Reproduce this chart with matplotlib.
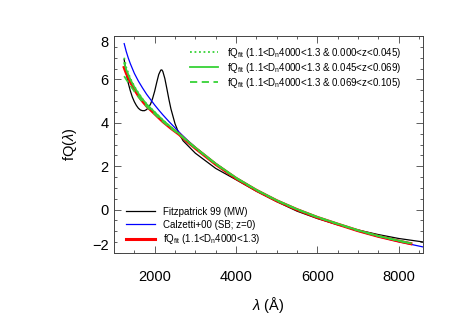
import numpy as np
import matplotlib
matplotlib.use('Agg')
import matplotlib.pyplot as plt
from matplotlib.ticker import MultipleLocator

plt.rcParams['font.family'] = 'Liberation Sans'
plt.rcParams['mathtext.fontset'] = 'custom'
plt.rcParams['mathtext.rm'] = 'Liberation Sans'
plt.rcParams['mathtext.it'] = 'Liberation Sans:italic'

# Fitzpatrick 99 (MW)
wave_mw = [1250, 1300, 1350, 1400, 1450, 1500, 1550, 1600, 1650, 1700, 1750, 1800,
           1850, 1900, 1950, 2000, 2050, 2100, 2150, 2175, 2200, 2250, 2300, 2350,
           2400, 2500, 2600, 2700, 3000, 3500, 4000, 4500, 5000, 5500, 6000, 6500,
           7000, 7500, 8000, 8600]
q_mw = [6.92, 6.27, 5.83, 5.48, 5.19, 4.97, 4.80, 4.67, 4.59, 4.56, 4.56, 4.61,
        4.71, 4.87, 5.13, 5.46, 5.86, 6.23, 6.43, 6.44, 6.37, 6.04, 5.57, 5.08,
        4.64, 3.96, 3.49, 3.17, 2.60, 1.90, 1.38, 0.85, 0.37, -0.07, -0.41, -0.70,
        -0.94, -1.15, -1.33, -1.49]

# Calzetti+00 (SB; z=0)
wave_sb = [1250, 1300, 1350, 1400, 1500, 1600, 1700, 1800, 1900, 2000, 2100,
           2200, 2350, 2500, 2650, 2800, 3000, 3250, 3500, 3750, 4000, 4500, 5000,
           5500, 6000, 6300, 7000, 7500, 8000, 8600]
q_sb = [7.65, 7.29, 6.99, 6.73, 6.28, 5.92, 5.61, 5.32, 5.07, 4.82, 4.59,
        4.37, 4.06, 3.77, 3.48, 3.21, 2.87, 2.48, 2.12, 1.78, 1.46, 0.90, 0.42,
        0.00, -0.37, -0.56, -0.99, -1.25, -1.48, -1.72]

# fQ_fit curves
wave_fit = [1250, 1300, 1400, 1500, 1600, 1700, 1800, 2000, 2200, 2400, 2600, 2800,
            3000, 3500, 4000, 4500, 5000, 5500, 6000, 6500, 7000, 7500, 8000, 8300]
q_fit = [6.55, 6.30, 5.90, 5.55, 5.25, 5.00, 4.78, 4.42, 4.06, 3.75, 3.47, 3.14,
         2.83, 2.09, 1.44, 0.89, 0.41, 0.00, -0.36, -0.67, -0.97, -1.23, -1.45, -1.57]
q_z1 = [7.00, 6.55, 6.05, 5.68, 5.37, 5.10, 4.87, 4.50, 4.13, 3.80, 3.50, 3.16,
        2.85, 2.11, 1.46, 0.90, 0.42, 0.01, -0.35, -0.66, -0.96, -1.22, -1.44, -1.56]
q_z2 = [6.75, 6.45, 6.00, 5.65, 5.35, 5.09, 4.86, 4.49, 4.12, 3.79, 3.49, 3.17,
        2.86, 2.12, 1.47, 0.91, 0.43, 0.02, -0.34, -0.65, -0.95, -1.21, -1.43, -1.55]
q_z3 = [6.15, 6.00, 5.72, 5.45, 5.20, 4.97, 4.76, 4.41, 4.06, 3.75, 3.47, 3.15,
        2.84, 2.10, 1.45, 0.90, 0.42, 0.01, -0.35, -0.66, -0.96, -1.22, -1.44, -1.56]

green = '#36d236'
lab = 'fQ$_{\\mathrm{fit}}$ (1.1<D$_{\\mathrm{n}}$4000<1.3'

fig = plt.figure(figsize=(4.57, 3.26), dpi=100)
ax = fig.add_axes([0.2495, 0.2239, 0.6762, 0.6656])

l_mw, = ax.plot(wave_mw, q_mw, color='black', lw=0.9)
l_sb, = ax.plot(wave_sb, q_sb, color='blue', lw=0.9)
l_fit, = ax.plot(wave_fit, q_fit, color='red', lw=2.2)
l_z1, = ax.plot(wave_fit, q_z1, color=green, lw=1.3, ls=(0, (1, 1.5)))
l_z2, = ax.plot(wave_fit, q_z2, color=green, lw=1.3, ls='-')
l_z3, = ax.plot(wave_fit, q_z3, color=green, lw=1.3, ls=(0, (4, 2.5)))

ax.set_xlim(1000, 8600)
ax.set_ylim(-2, 8)
ax.set_xticks([2000, 4000, 6000, 8000])
ax.set_yticks([-2, 0, 2, 4, 6, 8])
ax.xaxis.set_minor_locator(MultipleLocator(500))
ax.yaxis.set_minor_locator(MultipleLocator(0.5))
ax.tick_params(which='both', direction='in', top=True, right=True,
               color='#444444', width=0.6)
ax.tick_params(which='major', length=5, labelsize=10.5)
ax.tick_params(which='minor', length=2.5)
ax.tick_params(axis='x', which='major', pad=12)
ax.tick_params(axis='y', which='major', pad=4)
for sp in ax.spines.values():
    sp.set_linewidth(0.7)
    sp.set_color('#444444')

# end labels sit inside the axis range, as in the original
yt = ax.yaxis.get_major_ticks()
yt[0].label1.set_va('bottom')
yt[-1].label1.set_va('top')

ax.set_xlabel('$\\lambda$ (Å)', fontsize=10.5)
ax.set_ylabel('fQ($\\lambda$)', fontsize=10.5)
ax.xaxis.set_label_coords(0.5, -0.195)
ax.yaxis.set_label_coords(-0.113, 0.5)

leg1 = ax.legend([l_z1, l_z2, l_z3],
                 [lab + ' & 0.000<z<0.045)', lab + ' & 0.045<z<0.069)',
                  lab + ' & 0.069<z<0.105)'],
                 loc='upper left', bbox_to_anchor=(0.245, 0.955), frameon=False,
                 fontsize=7, handlelength=2.9, handletextpad=0.9,
                 labelspacing=0.1, borderpad=0, borderaxespad=0)
ax.add_artist(leg1)
ax.legend([l_mw, l_sb, l_fit],
          ['Fitzpatrick 99 (MW)', 'Calzetti+00 (SB; z=0)', lab + ')'],
          loc='lower left', bbox_to_anchor=(0.04, 0.03), frameon=False,
          fontsize=7, handlelength=2.9, handletextpad=0.9,
          labelspacing=0.3, borderpad=0, borderaxespad=0)

fig.savefig('out.png', dpi=100)
